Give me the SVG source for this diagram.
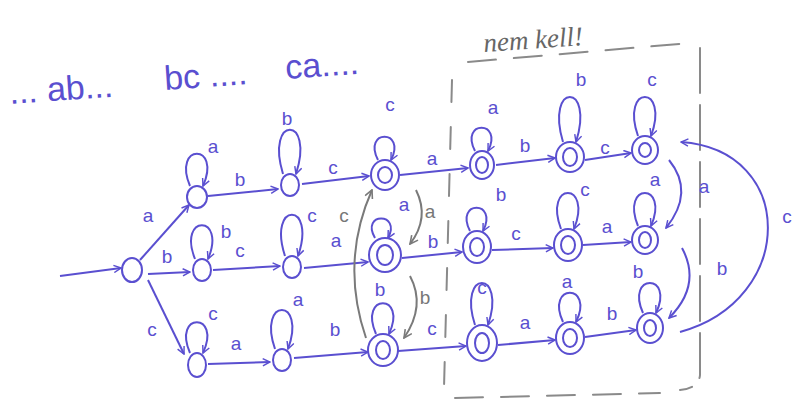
<svg xmlns="http://www.w3.org/2000/svg" width="794" height="406" viewBox="0 0 794 406">
<style>
.st{fill:none;stroke:#5a4fd0;stroke-width:2;}
.e{fill:none;stroke:#5a4fd0;stroke-width:2;marker-end:url(#ab);}
.g{fill:none;stroke:#7a7a7a;stroke-width:2;marker-end:url(#ag);}
.box{fill:none;stroke:#8a8a8a;stroke-width:2;stroke-linecap:round;}
.l{font-family:"Liberation Sans",Arial,sans-serif;font-size:19px;fill:#5a4fd0;text-anchor:middle;}
.lg{font-family:"Liberation Sans",Arial,sans-serif;font-size:19px;fill:#777;text-anchor:middle;}
.big{font-family:"Liberation Sans",Arial,sans-serif;font-size:34px;fill:#5a4fd0;}
.title{font-family:"Liberation Serif",serif;font-style:italic;font-size:27px;fill:#666;}
</style>
<defs>
<marker id="ab" viewBox="0 0 10 10" refX="9" refY="5" markerWidth="9" markerHeight="9" orient="auto" markerUnits="userSpaceOnUse">
<path d="M1,1 L9,5 L1,9" fill="none" stroke="#5a4fd0" stroke-width="1.6"/>
</marker>
<marker id="ag" viewBox="0 0 10 10" refX="9" refY="5" markerWidth="10" markerHeight="10" orient="auto" markerUnits="userSpaceOnUse">
<path d="M1,1 L9,5 L1,9" fill="none" stroke="#7a7a7a" stroke-width="1.6"/>
</marker>
</defs>
<rect width="794" height="406" fill="#fff"/>

<g id="header">
<text class="big" x="10" y="104" transform="rotate(-4 10 104)">... ab...</text>
<text class="big" x="165" y="90" transform="rotate(-4 165 90)">bc ....</text>
<text class="big" x="286" y="79" transform="rotate(-4 286 79)">ca....</text>
</g>

<g id="box">
<text class="title" x="484" y="52" transform="rotate(-4 484 52)">nem kell!</text>
<path class="box" d="M468,62 L690,43" stroke-dasharray="28 18"/>
<path class="box" d="M700,48 L700,375 Q699,388 680,390" stroke-dasharray="45 12"/>
<path class="box" d="M452,80 L444,388" stroke-dasharray="22 25"/>
<path class="box" d="M455,398 L660,393" stroke-dasharray="28 18"/>
</g>

<g id="connectors">
<path class="e" d="M60,276 L121,268"/>
<path class="e" d="M140,260 L189,205"/><text class="l" x="148" y="222">a</text>
<path class="e" d="M148,274 L190,272"/><text class="l" x="167" y="263">b</text>
<path class="e" d="M148,280 L184,354"/><text class="l" x="152" y="336">c</text>
<path class="e" d="M208,196 L278,189"/><text class="l" x="240" y="186">b</text>
<path class="e" d="M213,270 L280,266"/><text class="l" x="240" y="257">c</text>
<path class="e" d="M208,364 L270,362"/><text class="l" x="236" y="350">a</text>
<path class="e" d="M302,184 L369,176"/><text class="l" x="333" y="174">c</text>
<path class="e" d="M304,268 L368,262"/><text class="l" x="336" y="247">a</text>
<path class="e" d="M294,358 L368,352"/><text class="l" x="335" y="336">b</text>
<path class="e" d="M400,175 L468,168"/><text class="l" x="432" y="165">a</text>
<path class="e" d="M402,258 L462,252"/><text class="l" x="433" y="248">b</text>
<path class="e" d="M398,351 L466,346"/><text class="l" x="432" y="335">c</text>
<path class="e" d="M496,165 L555,158"/><text class="l" x="525" y="152">b</text>
<path class="e" d="M492,250 L553,248"/><text class="l" x="516" y="240">c</text>
<path class="e" d="M498,345 L555,340"/><text class="l" x="525" y="329">a</text>
<path class="e" d="M585,160 L631,153"/><text class="l" x="605" y="154">c</text>
<path class="e" d="M583,245 L631,242"/><text class="l" x="607" y="233">a</text>
<path class="e" d="M585,337 L636,330"/><text class="l" x="612" y="320">b</text>
<path class="g" d="M416,190 Q430,218 410,244"/><text class="lg" x="430" y="218">a</text>
<path class="g" d="M410,276 Q426,306 404,338"/><text class="lg" x="425" y="304">b</text>
<path class="g" d="M366,338 Q340,262 372,190"/><text class="lg" x="344" y="222">c</text>
<path class="e" d="M669,160 Q695,192 666,228"/><text class="l" x="704" y="193">a</text>
<path class="e" d="M682,248 Q702,285 669,318"/><text class="l" x="722" y="275">b</text>
<path class="e" d="M680,332 C797,300 797,150 681,142"/><text class="l" x="787" y="223">c</text>
</g>

<g id="loops">
<path class="e" d="M190,186 C172,143 222,143 203,186"/><text class="l" x="213" y="153">a</text>
<path class="e" d="M283,174 C265,115 315,115 296,174"/><text class="l" x="287" y="125">b</text>
<path class="e" d="M378,160 C362,129 407,129 391,160"/><text class="l" x="390" y="111">c</text>
<path class="e" d="M475,151 C459,120 504,120 488,151"/><text class="l" x="493" y="114">a</text>
<path class="e" d="M563,142 C545,82 595,82 576,142"/><text class="l" x="581" y="86">b</text>
<path class="e" d="M638,136 C620,84 670,84 651,136"/><text class="l" x="652" y="86">c</text>
<path class="e" d="M195,259 C177,214 227,214 208,259"/><text class="l" x="226" y="238">b</text>
<path class="e" d="M285,256 C267,201 317,201 298,256"/><text class="l" x="312" y="222">c</text>
<path class="e" d="M375,238 C360,212 402,212 388,238"/><text class="l" x="404" y="211">a</text>
<path class="e" d="M470,231 C454,200 499,200 483,231"/><text class="l" x="501" y="201">b</text>
<path class="e" d="M561,229 C543,181 593,181 574,229"/><text class="l" x="585" y="196">c</text>
<path class="e" d="M638,226 C620,182 670,182 651,226"/><text class="l" x="655" y="186">a</text>
<path class="e" d="M190,353 C172,312 222,312 203,353"/><text class="l" x="213" y="320">c</text>
<path class="e" d="M275,349 C257,297 307,297 288,349"/><text class="l" x="298" y="306">a</text>
<path class="e" d="M376,334 C358,293 408,293 389,334"/><text class="l" x="380" y="296">b</text>
<path class="e" d="M475,325 C457,269 507,269 488,325"/><text class="l" x="482" y="294">c</text>
<path class="e" d="M563,322 C545,283 595,283 576,322"/><text class="l" x="567" y="288">a</text>
<path class="e" d="M643,313 C625,273 675,273 656,313"/><text class="l" x="638" y="278">b</text>
</g>

<g id="s0"><ellipse class="st" cx="132" cy="270" rx="10" ry="12"/></g>
<g id="n1"><ellipse class="st" cx="197" cy="197" rx="10" ry="11"/></g>
<g id="n2"><ellipse class="st" cx="290" cy="185" rx="9" ry="11"/></g>
<g id="n3"><ellipse class="st" cx="385" cy="175" rx="14" ry="15"/><ellipse class="st" cx="385" cy="175" rx="7" ry="8"/></g>
<g id="n4"><ellipse class="st" cx="482" cy="165" rx="12" ry="14"/><ellipse class="st" cx="482" cy="165" rx="6" ry="8"/></g>
<g id="n5"><ellipse class="st" cx="570" cy="157" rx="14" ry="15"/><ellipse class="st" cx="570" cy="157" rx="7" ry="9"/></g>
<g id="n6"><ellipse class="st" cx="645" cy="150" rx="13" ry="14"/><ellipse class="st" cx="645" cy="150" rx="6" ry="7"/></g>
<g id="m1"><ellipse class="st" cx="202" cy="270" rx="9" ry="11"/></g>
<g id="m2"><ellipse class="st" cx="292" cy="267" rx="9" ry="11"/></g>
<g id="m3"><ellipse class="st" cx="385" cy="255" rx="16" ry="17"/><ellipse class="st" cx="385" cy="255" rx="8" ry="10"/></g>
<g id="m4"><ellipse class="st" cx="477" cy="247" rx="14" ry="16"/><ellipse class="st" cx="477" cy="247" rx="7" ry="9"/></g>
<g id="m5"><ellipse class="st" cx="568" cy="245" rx="14" ry="16"/><ellipse class="st" cx="568" cy="245" rx="7" ry="9"/></g>
<g id="m6"><ellipse class="st" cx="645" cy="240" rx="13" ry="14"/><ellipse class="st" cx="645" cy="240" rx="6" ry="8"/></g>
<g id="b1"><ellipse class="st" cx="197" cy="365" rx="9" ry="12"/></g>
<g id="b2"><ellipse class="st" cx="282" cy="360" rx="9" ry="11"/></g>
<g id="b3"><ellipse class="st" cx="383" cy="350" rx="15" ry="16"/><ellipse class="st" cx="383" cy="350" rx="7" ry="9"/></g>
<g id="b4"><ellipse class="st" cx="482" cy="343" rx="15" ry="18"/><ellipse class="st" cx="482" cy="343" rx="7" ry="10"/></g>
<g id="b5"><ellipse class="st" cx="570" cy="338" rx="14" ry="16"/><ellipse class="st" cx="570" cy="338" rx="7" ry="9"/></g>
<g id="b6"><ellipse class="st" cx="650" cy="328" rx="13" ry="15"/><ellipse class="st" cx="650" cy="328" rx="6" ry="8"/></g>
</svg>
